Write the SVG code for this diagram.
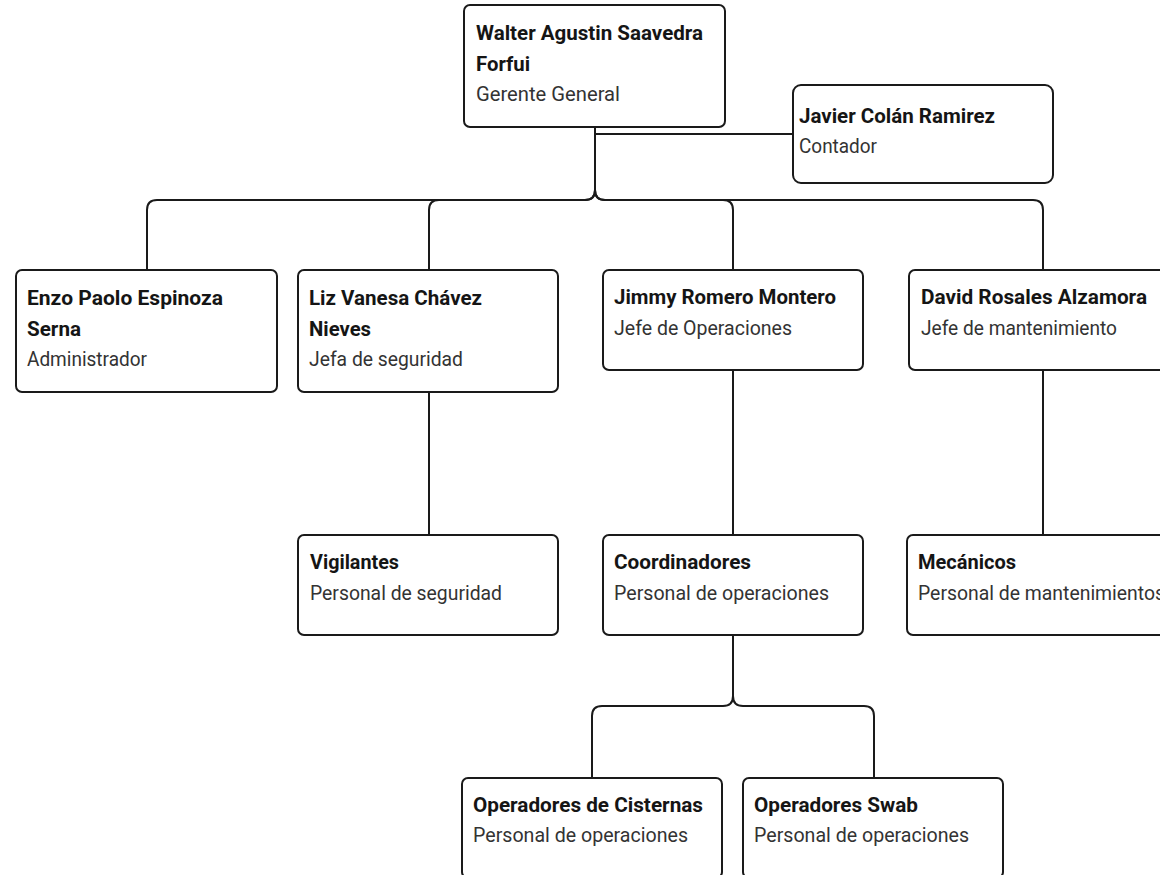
<svg xmlns="http://www.w3.org/2000/svg" width="1160" height="875" viewBox="0 0 1160 875">
<style>
.box{fill:#fff;stroke:#1a1a1a;stroke-width:2}
.con{fill:none;stroke:#1a1a1a;stroke-width:2}
text{font-family:Roboto,"Liberation Sans",Arial,sans-serif;font-size:20px}
.b{font-weight:700;fill:#151515}
.r{fill:#333}
</style>
<rect width="1160" height="875" fill="#fff"/>
<g id="connectors">
<path class="con" d="M595,128 V190 Q595,200 585,200 H157 Q147,200 147,210 V270"/>
<path class="con" d="M595,128 V190 Q595,200 585,200 H439 Q429,200 429,210 V270"/>
<path class="con" d="M595,128 V190 Q595,200 605,200 H723 Q733,200 733,210 V270"/>
<path class="con" d="M595,128 V190 Q595,200 605,200 H1033 Q1043,200 1043,210 V270"/>
<path class="con" d="M595,134 H793"/>
<path class="con" d="M429,392 V535"/>
<path class="con" d="M733,370 V535"/>
<path class="con" d="M1043,370 V535"/>
<path class="con" d="M733,635 V696 Q733,706 723,706 H602 Q592,706 592,716 V778"/>
<path class="con" d="M733,635 V696 Q733,706 743,706 H864 Q874,706 874,716 V778"/>
</g>
<g id="walter">
<rect class="box" x="464" y="5" width="261" height="122" rx="6"/>
<text class="b" x="476" y="40" textLength="227" lengthAdjust="spacingAndGlyphs">Walter Agustin Saavedra</text>
<text class="b" x="476" y="71" textLength="54" lengthAdjust="spacingAndGlyphs">Forfui</text>
<text class="r" x="476" y="101" textLength="144" lengthAdjust="spacingAndGlyphs">Gerente General</text>
</g>
<g id="javier">
<rect class="box" x="793" y="85" width="260" height="98" rx="8"/>
<text class="b" x="799" y="123" textLength="196" lengthAdjust="spacingAndGlyphs">Javier Colán Ramirez</text>
<text class="r" x="799" y="153" textLength="78" lengthAdjust="spacingAndGlyphs">Contador</text>
</g>
<g id="enzo">
<rect class="box" x="16" y="270" width="261" height="122" rx="6"/>
<text class="b" x="27" y="305" textLength="196" lengthAdjust="spacingAndGlyphs">Enzo Paolo Espinoza</text>
<text class="b" x="27" y="336" textLength="54" lengthAdjust="spacingAndGlyphs">Serna</text>
<text class="r" x="27" y="366" textLength="120" lengthAdjust="spacingAndGlyphs">Administrador</text>
</g>
<g id="liz">
<rect class="box" x="298" y="270" width="260" height="122" rx="6"/>
<text class="b" x="309" y="305" textLength="173" lengthAdjust="spacingAndGlyphs">Liz Vanesa Chávez</text>
<text class="b" x="309" y="336" textLength="62" lengthAdjust="spacingAndGlyphs">Nieves</text>
<text class="r" x="309" y="366" textLength="154" lengthAdjust="spacingAndGlyphs">Jefa de seguridad</text>
</g>
<g id="jimmy">
<rect class="box" x="603" y="270" width="260" height="100" rx="6"/>
<text class="b" x="614" y="304" textLength="222" lengthAdjust="spacingAndGlyphs">Jimmy Romero Montero</text>
<text class="r" x="614" y="335" textLength="178" lengthAdjust="spacingAndGlyphs">Jefe de Operaciones</text>
</g>
<g id="david">
<rect class="box" x="909" y="270" width="270" height="100" rx="6"/>
<text class="b" x="921" y="304" textLength="226" lengthAdjust="spacingAndGlyphs">David Rosales Alzamora</text>
<text class="r" x="921" y="335" textLength="196" lengthAdjust="spacingAndGlyphs">Jefe de mantenimiento</text>
</g>
<g id="vigilantes">
<rect class="box" x="298" y="535" width="260" height="100" rx="6"/>
<text class="b" x="310" y="569" textLength="89" lengthAdjust="spacingAndGlyphs">Vigilantes</text>
<text class="r" x="310" y="600" textLength="192" lengthAdjust="spacingAndGlyphs">Personal de seguridad</text>
</g>
<g id="coordinadores">
<rect class="box" x="603" y="535" width="260" height="100" rx="6"/>
<text class="b" x="614" y="569" textLength="137" lengthAdjust="spacingAndGlyphs">Coordinadores</text>
<text class="r" x="614" y="600" textLength="215" lengthAdjust="spacingAndGlyphs">Personal de operaciones</text>
</g>
<g id="mecanicos">
<rect class="box" x="907" y="535" width="270" height="100" rx="6"/>
<text class="b" x="918" y="569" textLength="98" lengthAdjust="spacingAndGlyphs">Mecánicos</text>
<text class="r" x="918" y="600" textLength="247" lengthAdjust="spacingAndGlyphs">Personal de mantenimientos</text>
</g>
<g id="cisternas">
<rect class="box" x="462" y="778" width="260" height="100" rx="6"/>
<text class="b" x="473" y="812" textLength="230" lengthAdjust="spacingAndGlyphs">Operadores de Cisternas</text>
<text class="r" x="473" y="842" textLength="215" lengthAdjust="spacingAndGlyphs">Personal de operaciones</text>
</g>
<g id="swab">
<rect class="box" x="743" y="778" width="260" height="100" rx="6"/>
<text class="b" x="754" y="812" textLength="164" lengthAdjust="spacingAndGlyphs">Operadores Swab</text>
<text class="r" x="754" y="842" textLength="215" lengthAdjust="spacingAndGlyphs">Personal de operaciones</text>
</g>
</svg>
